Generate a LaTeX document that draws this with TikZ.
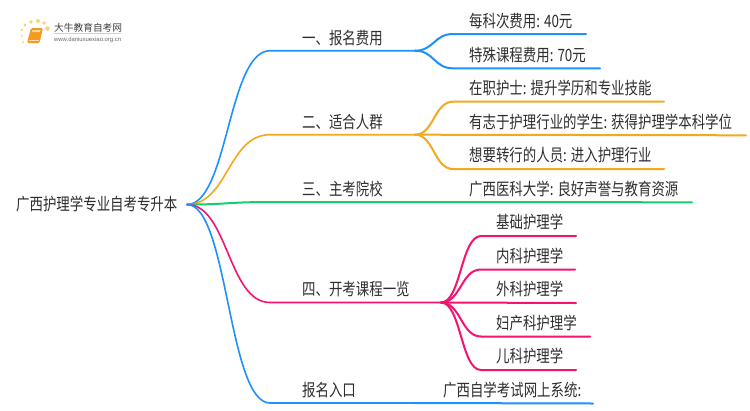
\documentclass[tikz,border=0pt]{standalone}
\usepackage{fontspec}
\setmainfont[FakeStretch=0.79]{Noto Sans CJK SC}
\newfontfamily\latinf{Liberation Sans}
\newfontfamily\logof{Noto Sans CJK SC}
\definecolor{cblue}{HTML}{1E90FF}
\definecolor{corange}{HTML}{F5A81C}
\definecolor{cgreen}{HTML}{17CC73}
\definecolor{cpink}{HTML}{F5136F}
\definecolor{ctext}{HTML}{2E2E2E}
\definecolor{cdot}{HTML}{FBD27A}
\definecolor{cbook}{HTML}{F59A1E}
\tikzset{
 x=1pt,y=-1pt,
 lab/.style={inner sep=0pt,text=ctext,font=\fontsize{17}{19}\selectfont,anchor=base west,yshift=.5pt},
 wire/.style={line width=2pt,line cap=round},
 wirethin/.style={line width=1.6pt,line cap=round},
}
\begin{document}
\begin{tikzpicture}
\useasboundingbox (0,0) rectangle (750,410);
\fill[white] (0,0) rectangle (750,410);
% logo
\foreach \x/\y/\r in {23/42/1,22/36/1.2,22/30/1.4,25/25/1.6,31/22/1.9,38/21/2,44/23/1.8,47.5/28.5/2.3}
  \fill[cdot] (\x,\y) circle (\r);
\fill[cbook,rounded corners=1.5pt] (31,28) -- (43,28) -- (39.5,43) -- (27,43) -- cycle;
\fill[white!60!cbook] (32.5,30) -- (40.5,30) -- (40,32) -- (32,32) -- cycle;
\draw[white!70!cbook,line width=.6pt] (28.5,40.5) -- (39,40.5);
\node[inner sep=0pt,anchor=base west,text=black!75,font=\logof\fontsize{9.7}{11}\selectfont] (logo) at (54,31.5) {大牛教育自考网};
\draw[black!18,line width=.5pt] (54,33.5) -- (121,33.5);
\node[inner sep=0pt,anchor=base west,text=black!60,font=\latinf\fontsize{5.9}{7}\selectfont] (logourl) at (54,41) {www.daniuxuexiao.org.cn};
% root
\node[lab] (root) at (16,211) {广西护理学专业自考专升本};
\coordinate (r) at (187,204.5);
% level-1
\coordinate (a1) at (270,50.7); \coordinate (a2) at (415,50.7);
\coordinate (b1) at (270,134.7); \coordinate (b2) at (415,134.7);
\coordinate (c1) at (270,202); \coordinate (c2) at (415,202);
\coordinate (d1) at (270,302.5); \coordinate (d2) at (441,302.5);
\coordinate (e1) at (270,403); \coordinate (e2) at (415,403);
\node[lab] (la) at (302,45) {一、报名费用};
\node[lab] (lb) at (302,128.5) {二、适合人群};
\node[lab] (lc) at (302,195.5) {三、主考院校};
\node[lab] (ld) at (302,296) {四、开考课程一览};
\node[lab] (le) at (302,397) {报名入口};
\draw[wirethin,cblue] (r) .. controls (228,204.5) and (228,50.7) .. (a1) -- (a2);
\draw[wirethin,corange] (r) .. controls (228,204.5) and (228,134.7) .. (b1) -- (b2);
\draw[wire,cgreen] (r) .. controls (228,204.5) and (228,202) .. (c1) -- (c2);
\draw[wirethin,cpink] (r) .. controls (228,204.5) and (228,302.5) .. (d1) -- (d2);
\draw[wirethin,cblue] (r) .. controls (228,204.5) and (228,403) .. (e1) -- (e2);
% leaves
\node[lab] (a11) at (469,28) {每科次费用: 40元};
\node[lab] (a21) at (469,61.5) {特殊课程费用: 70元};
\node[lab] (b11) at (469,95) {在职护士: 提升学历和专业技能};
\node[lab] (b21) at (469,128.5) {有志于护理行业的学生: 获得护理学本科学位};
\node[lab] (b31) at (469,162) {想要转行的人员: 进入护理行业};
\node[lab] (c11) at (469,195.5) {广西医科大学: 良好声誉与教育资源};
\node[lab] (d11) at (496,229) {基础护理学};
\node[lab] (d21) at (496,262.5) {内科护理学};
\node[lab] (d31) at (496,296) {外科护理学};
\node[lab] (d41) at (496,329.5) {妇产科护理学};
\node[lab] (d51) at (496,363) {儿科护理学};
\node[lab] (e11) at (443,397) {广西自学考试网上系统:};
\draw[wire,cblue] (a2) .. controls (434,50.7) and (434,34) .. (453,34) -- (586,34);
\draw[wire,cblue] (a2) .. controls (434,50.7) and (434,68.3) .. (453,68.3) -- (600,68.3);
\draw[wire,corange] (b2) .. controls (434,134.7) and (434,101.7) .. (453,101.7) -- (664,101.7);
\draw[wire,corange] (b2) -- (746,135.3);
\draw[wire,corange] (b2) .. controls (434,134.7) and (434,169) .. (453,169) -- (664,169);
\draw[wire,cgreen] (c2) -- (692,202.3);
\draw[wire,cpink] (d2) .. controls (461,302.5) and (461,236) .. (481,236) -- (576,236);
\draw[wire,cpink] (d2) .. controls (461,302.5) and (461,269.5) .. (481,269.5) -- (575,269.5);
\draw[wire,cpink] (d2) -- (576,303);
\draw[wire,cpink] (d2) .. controls (461,302.5) and (461,336.5) .. (481,336.5) -- (590,336.5);
\draw[wire,cpink] (d2) .. controls (461,302.5) and (461,370) .. (481,370) -- (576,370);
\draw[wire,cblue] (e2) -- (593,403.5);
\end{tikzpicture}
\end{document}
